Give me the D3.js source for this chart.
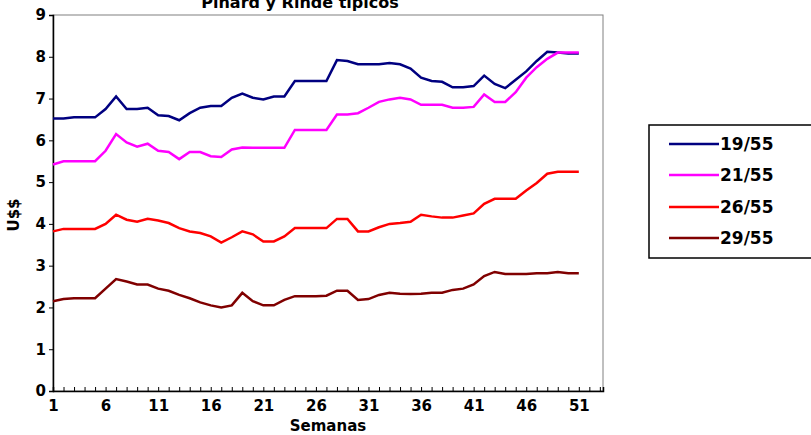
<!DOCTYPE html>
<html><head><meta charset="utf-8">
<script src="https://cdn.jsdelivr.net/npm/d3@7"></script>
<style>body{margin:0;background:#fff}text{font-family:"DejaVu Sans",Verdana,sans-serif;font-weight:bold}</style>
</head><body><div id="chart"></div>
<script>
const weeks = d3.range(1, 52);
const s1955 = [6.52,6.52,6.55,6.55,6.55,6.75,7.05,6.75,6.75,6.78,6.6,6.58,6.48,6.65,6.78,6.82,6.82,7.02,7.12,7.02,6.98,7.05,7.05,7.42,7.42,7.42,7.42,7.92,7.9,7.82,7.82,7.82,7.85,7.82,7.72,7.5,7.42,7.4,7.27,7.27,7.3,7.55,7.35,7.25,7.45,7.65,7.9,8.12,8.1,8.08,8.08];
const s2155 = [5.42,5.5,5.5,5.5,5.5,5.75,6.15,5.95,5.85,5.92,5.75,5.72,5.55,5.72,5.72,5.62,5.6,5.78,5.83,5.82,5.82,5.82,5.82,6.25,6.25,6.25,6.25,6.62,6.62,6.65,6.78,6.92,6.98,7.02,6.98,6.85,6.85,6.85,6.78,6.78,6.8,7.1,6.92,6.92,7.15,7.5,7.75,7.95,8.1,8.1,8.1];
const s2655 = [3.82,3.88,3.88,3.88,3.88,4.0,4.22,4.1,4.05,4.12,4.08,4.02,3.9,3.82,3.78,3.7,3.55,3.68,3.82,3.75,3.58,3.58,3.7,3.9,3.9,3.9,3.9,4.12,4.12,3.82,3.82,3.92,4.0,4.02,4.05,4.22,4.18,4.15,4.15,4.2,4.25,4.48,4.6,4.6,4.6,4.8,4.98,5.2,5.25,5.25,5.25];
const s2955 = [2.15,2.2,2.22,2.22,2.22,2.45,2.68,2.62,2.55,2.55,2.45,2.4,2.3,2.22,2.12,2.05,2.0,2.05,2.35,2.15,2.05,2.05,2.18,2.27,2.27,2.27,2.28,2.4,2.4,2.18,2.2,2.3,2.35,2.33,2.32,2.33,2.35,2.35,2.42,2.45,2.55,2.75,2.85,2.8,2.8,2.8,2.82,2.82,2.85,2.82,2.82];
const seriesNames = ["19/55","21/55","26/55","29/55"];
const seriesColors = ["#000080","#ff00ff","#ff0000","#800000"];
const seriesData = [s1955, s2155, s2655, s2955];
const xTicks = [1,6,11,16,21,26,31,36,41,46,51];

const W = 811, H = 435;
const svg = d3.select("#chart").append("svg").attr("width", W).attr("height", H);
const x = d3.scaleLinear().domain([1, 53.3]).range([53, 603]);
const y = d3.scaleLinear().domain([0, 9]).range([391, 15]);

svg.append("text").attr("x", 300).attr("y", 8).attr("text-anchor", "middle")
  .style("font-size", "16px").text("Pinard y Rinde típicos");

svg.append("rect").attr("x", 53).attr("y", 15).attr("width", 550).attr("height", 376)
  .attr("fill", "none").attr("stroke", "#808080");

const ya = svg.append("g").attr("transform", "translate(53,0)")
  .call(d3.axisLeft(y).ticks(9).tickSize(4).tickFormat(d3.format("d")));
ya.selectAll("text").style("font-size", "15px").attr("fill", "#000");
ya.select(".domain").attr("stroke", "#000").attr("stroke-width", 1.5);

const xa = svg.append("g").attr("transform", "translate(0,391)")
  .call(d3.axisBottom(x).tickValues(d3.range(1, 54)).tickSize(-4).tickFormat(d => xTicks.includes(d) ? d : ""));
xa.selectAll("text").style("font-size", "15px").attr("fill", "#000").attr("dy", "1.1em");
xa.select(".domain").attr("stroke", "#000").attr("stroke-width", 1.5);

svg.append("text").attr("x", 328).attr("y", 431).attr("text-anchor", "middle")
  .style("font-size", "15px").text("Semanas");
svg.append("text").attr("transform", "translate(19,215) rotate(-90)").attr("text-anchor", "middle")
  .style("font-size", "15px").text("U$$");

const line = d3.line().x((d, i) => x(weeks[i])).y(d => y(d));
seriesData.forEach((s, k) => {
  svg.append("path").datum(s).attr("d", line).attr("fill", "none")
    .attr("stroke", seriesColors[k]).attr("stroke-width", 2.5);
});

const lg = svg.append("g");
lg.append("rect").attr("x", 649).attr("y", 125).attr("width", 170).attr("height", 133)
  .attr("fill", "#fff").attr("stroke", "#000").attr("stroke-width", 1.5);
const legendY = [144, 175, 207, 238];
seriesNames.forEach((n, k) => {
  lg.append("line").attr("x1", 669).attr("x2", 719).attr("y1", legendY[k]).attr("y2", legendY[k])
    .attr("stroke", seriesColors[k]).attr("stroke-width", 2.5);
  lg.append("text").attr("x", 720).attr("y", legendY[k] + 6).style("font-size", "17px").text(n);
});
</script></body></html>
